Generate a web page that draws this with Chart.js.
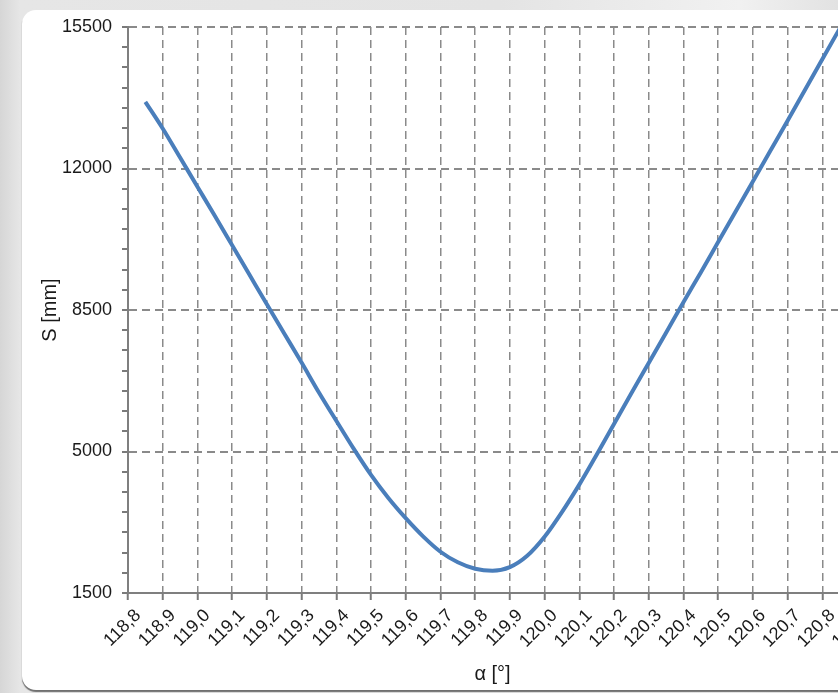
<!DOCTYPE html>
<html>
<head>
<meta charset="utf-8">
<script src="https://cdn.jsdelivr.net/npm/chart.js@4/dist/chart.umd.min.js"></script>
<style>
  body {
    margin: 0;
    width: 838px;
    height: 693px;
    overflow: hidden;
    position: relative;
    background: linear-gradient(90deg, #d6d6d6 0px, #e6e6e6 20px, #e4e4e4 500px, #f1f1f1 740px, #e2e2e2 838px);
  }
  #panel {
    position: absolute;
    left: 22px;
    top: 10px;
    width: 900px;
    height: 680px;
    background: #ffffff;
    border-radius: 14px;
    box-shadow: 0 2px 1px #707070;
  }
  #myChart {
    position: absolute;
    left: 0;
    top: 0;
  }
</style>
</head>
<body>
<div id="panel"></div>
<canvas id="myChart" width="880" height="693"></canvas>
<script>
/* datos */
const angulos = [118.85, 118.9, 118.95, 119.0, 119.05, 119.1, 119.15, 119.2, 119.25, 119.3,
  119.35, 119.4, 119.45, 119.5, 119.55, 119.6, 119.65, 119.7, 119.75, 119.8,
  119.85, 119.9, 119.95, 120.0, 120.05, 120.1, 120.15, 120.2, 120.25, 120.3,
  120.35, 120.4, 120.45, 120.5, 120.55, 120.6, 120.65, 120.7, 120.75, 120.8, 120.85];

const distancias = [13650, 12990, 12270, 11550, 10830, 10100, 9370, 8640, 7920, 7200,
  6460, 5760, 5070, 4420, 3850, 3350, 2900, 2520, 2260, 2100,
  2050, 2140, 2420, 2890, 3500, 4180, 4920, 5680, 6440, 7190,
  7940, 8690, 9430, 10180, 10930, 11680, 12430, 13180, 13940, 14700, 15460];

// etiquetas de los ejes
const etiquetasX = ['118,8', '118,9', '119,0', '119,1', '119,2', '119,3', '119,4', '119,5', '119,6', '119,7',
  '119,8', '119,9', '120,0', '120,1', '120,2', '120,3', '120,4', '120,5', '120,6', '120,7', '120,8', '120,9'];
const etiquetasY = [1500, 5000, 8500, 12000, 15500];

const fuente = 'Liberation Sans, Arial, sans-serif';
const gris = '#8a8a8a';

function dataParaElGrafico() {
  // armamos los puntos x/y
  const puntos = angulos.map((a, i) => {
    return { x: a, y: distancias[i] };
  });
  return {
    datasets: [{
      label: 'S',
      data: puntos,
      borderColor: '#4a7ebb',
      borderWidth: 4,
      pointRadius: 0,
      cubicInterpolationMode: 'monotone',
      fill: false
    }]
  };
}

function esEtiquetaY(valor) {
  return etiquetasY.includes(Math.round(valor));
}

function cargarGrafico() {
  const config = {
    type: 'line',
    data: dataParaElGrafico(),
    options: {
      responsive: false,
      animation: false,
      layout: { padding: { left: 34, top: 27, right: 23, bottom: 3 } },
      plugins: {
        legend: { display: false },
        tooltip: { enabled: false }
      },
      scales: {
        x: {
          type: 'linear',
          min: 118.8,
          max: 120.9,
          afterFit: (escala) => { escala.height = 97; },
          ticks: {
            stepSize: 0.1,
            minRotation: 45,
            maxRotation: 45,
            autoSkip: false,
            padding: 5,
            labelOffset: 10,
            color: '#1a1a1a',
            font: { family: fuente, size: 18 },
            callback: (valor, indice) => etiquetasX[indice]
          },
          grid: {
            color: gris,
            lineWidth: 1.5,
            tickLength: 7,
            tickColor: '#7a7a7a',
            tickWidth: 2,
            tickBorderDash: []
          },
          border: { display: true, color: '#7f7f7f', width: 2, dash: [8, 5] },
          title: {
            display: true,
            text: 'α [°]',
            color: '#1a1a1a',
            font: { family: fuente, size: 20 }
          }
        },
        y: {
          min: 1500,
          max: 15500,
          afterFit: (escala) => { escala.width = 94; },
          ticks: {
            stepSize: 500,
            autoSkip: false,
            padding: 10,
            color: '#1a1a1a',
            font: { family: fuente, size: 18 },
            callback: (valor) => esEtiquetaY(valor) ? String(valor) : ''
          },
          grid: {
            color: (ctx) => (ctx.tick && esEtiquetaY(ctx.tick.value)) ? gris : 'rgba(0,0,0,0)',
            lineWidth: 2,
            tickLength: 6,
            tickColor: '#7a7a7a',
            tickWidth: 2,
            tickBorderDash: []
          },
          border: { display: true, color: '#7f7f7f', width: 2, dash: [8, 5] },
          title: {
            display: true,
            text: 'S [mm]',
            color: '#1a1a1a',
            font: { family: fuente, size: 20 }
          }
        }
      }
    }
  };

  const chartDOM = document.getElementById('myChart');
  new Chart(chartDOM, config);
}

cargarGrafico();
</script>
</body>
</html>
